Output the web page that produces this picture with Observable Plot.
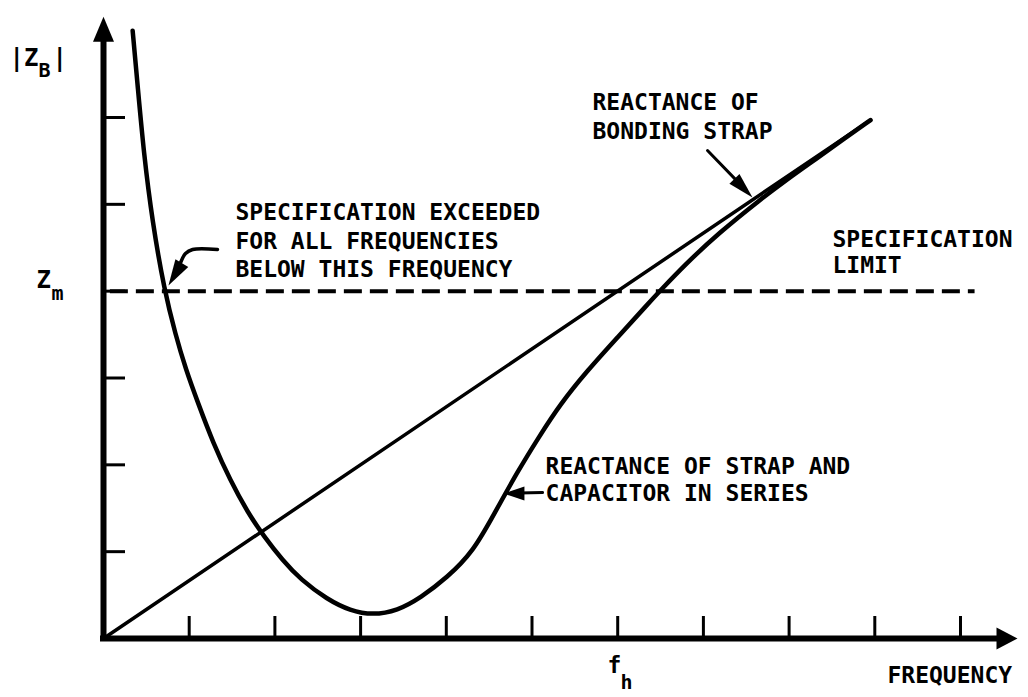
<!DOCTYPE html>
<html>
<head>
<meta charset="utf-8">
<script src="https://cdn.jsdelivr.net/npm/d3@7"></script>
<script src="https://cdn.jsdelivr.net/npm/@observablehq/plot@0.6"></script>
<style>
  html, body { margin: 0; padding: 0; background: #fff; }
  #chart svg { display: block; }
</style>
</head>
<body>
<div id="chart"></div>
<script>
// Units: frequency and |Z_B| are both measured in axis-tick steps.
const freqTicks = [1, 2, 3, 4, 5, 6, 7, 8, 9, 10];
const zTicks = [1, 2, 3, 4, 5, 6];
const fH = 6;          // frequency marked f_h
const zM = 4;          // specification limit Z_m

// Reactance of the bonding strap (rises linearly with frequency)
const strapFreq = [0, 8.95];
const strapZ = [0, 5.97];

// Reactance of strap and capacitor in series
const seriesFreq = [0.34, 0.40, 0.47, 0.57, 0.71, 0.84, 0.96, 1.10, 1.28, 1.48, 1.69, 1.87,
  2.09, 2.30, 2.61, 2.88, 3.14, 3.43, 3.70, 4.01, 4.32, 4.55, 4.83, 5.08, 5.33, 5.65,
  6.00, 6.35, 6.50, 6.79, 7.18, 7.67, 7.98, 8.31, 8.62, 8.95];
const seriesZ = [7.00, 6.35, 5.59, 4.80, 4.01, 3.50, 3.10, 2.72, 2.25, 1.82, 1.44, 1.18,
  0.90, 0.68, 0.45, 0.32, 0.27, 0.32, 0.47, 0.70, 1.01, 1.42, 1.92, 2.32, 2.70, 3.09,
  3.47, 3.85, 4.01, 4.31, 4.67, 5.06, 5.29, 5.52, 5.74, 5.97];

const FONT = "DejaVu Sans Mono";

const strap = strapFreq.map((f, i) => ({f, z: strapZ[i]}));
const series = seriesFreq.map((f, i) => ({f, z: seriesZ[i]}));

// Filled triangular arrowhead, tip at the origin, pointing along `deg`
// (0 = up, 90 = right, clockwise).
function head(len, wid, deg) {
  const a = deg * Math.PI / 180;
  const ux = Math.sin(a), uy = -Math.cos(a);
  const px = Math.cos(a), py = Math.sin(a);
  return {
    draw(ctx) {
      const bx = -len * ux, by = -len * uy;
      ctx.moveTo(0, 0);
      ctx.lineTo(bx + wid / 2 * px, by + wid / 2 * py);
      ctx.lineTo(bx - wid / 2 * px, by - wid / 2 * py);
      ctx.closePath();
    }
  };
}

function tip(x, y, symbol) {
  return Plot.dot([0], {x: () => x, y: () => y, symbol, r: 4, fill: "black", stroke: "none"});
}

function label(text, x, y, size = 23) {
  return Plot.text([text], {
    x: () => x, y: () => y, text: d => d,
    textAnchor: "start", lineAnchor: "bottom",
    fontSize: size, fontWeight: "bold", fontFamily: FONT, fill: "black"
  });
}

const chart = Plot.plot({
  width: 1028,
  height: 697,
  marginLeft: 103,
  marginRight: 68,
  marginTop: 117,
  marginBottom: 59,
  x: {domain: [0, 10]},
  y: {domain: [0, 6]},
  style: {background: "white", color: "black", fontFamily: FONT},
  marks: [
    // axes with arrowheads
    Plot.ruleY([0], {x1: 0, x2: 10.5, strokeWidth: 6, strokeLinecap: "square"}),
    Plot.ruleX([0], {y1: 0, y2: 7.0, strokeWidth: 6, strokeLinecap: "square"}),
    tip(10.665, 0, head(21, 22, 90)),
    tip(0, 7.16, head(25, 21, 0)),
    Plot.axisX(freqTicks, {tickSize: -22, strokeWidth: 3, tickFormat: () => "", label: null}),
    Plot.axisY(zTicks, {tickSize: -22, strokeWidth: 3, tickFormat: () => "", label: null}),

    // specification limit
    Plot.ruleY([zM], {x1: 0.08, x2: 10.17, strokeWidth: 4, strokeDasharray: "18,8"}),

    // reactance curves
    Plot.line(strap, {x: "f", y: "z", strokeWidth: 3.5, strokeLinecap: "round"}),
    Plot.line(series, {x: "f", y: "z", curve: "basis", strokeWidth: 4.5, strokeLinecap: "round"}),

    // leader arrows
    Plot.line([[1.33, 4.48], [1.04, 4.48], [0.957, 4.434], [0.90, 4.33]],
      {x: d => d[0], y: d => d[1], curve: "catmull-rom", strokeWidth: 3.5}),
    tip(0.758, 4.065, head(26, 15, 211)),
    Plot.line([[7.048, 5.62], [7.45, 5.21]], {x: d => d[0], y: d => d[1], strokeWidth: 3}),
    tip(7.573, 5.079, head(26, 14, 136)),
    Plot.line([[5.123, 1.681], [4.85, 1.675]], {x: d => d[0], y: d => d[1], strokeWidth: 3}),
    tip(4.667, 1.67, head(21, 14, 270)),

    // annotations
    label("SPECIFICATION EXCEEDED", 1.54, 4.82),
    label("FOR ALL FREQUENCIES", 1.54, 4.486),
    label("BELOW THIS FREQUENCY", 1.54, 4.163),
    label("REACTANCE OF", 5.706, 6.092),
    label("BONDING STRAP", 5.706, 5.758),
    label("SPECIFICATION", 8.506, 4.503),
    label("LIMIT", 8.506, 4.204),
    label("REACTANCE OF STRAP AND", 5.158, 1.90),
    label("CAPACITOR IN SERIES", 5.158, 1.589),
    label("FREQUENCY", 9.148, -0.518),

    // axis symbols
    label("f", fH - 0.119, -0.403, 23),
    label("h", fH + 0.033, -0.576, 20),
    label("Z", -0.782, zM + 0.042, 24),
    label("m", -0.607, zM - 0.107, 20),
    label("|Z", -1.097, 6.588, 24),
    label("B", -0.758, 6.472, 20),
    label("|", -0.595, 6.588, 24)
  ]
});

document.getElementById("chart").append(chart);
</script>
</body>
</html>
